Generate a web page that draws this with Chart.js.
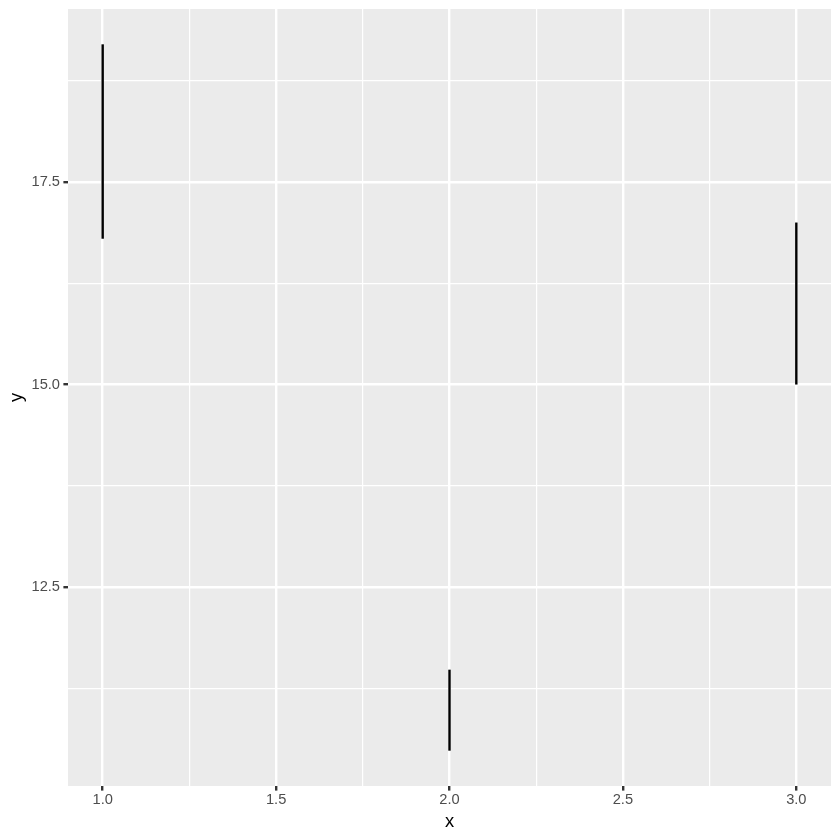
<!DOCTYPE html>
<html>
<head>
<meta charset="utf-8">
<script src="https://cdn.jsdelivr.net/npm/chart.js@4/dist/chart.umd.min.js"></script>
<style>
  html, body { margin: 0; padding: 0; background: #ffffff; }
  #wrap { width: 840px; height: 840px; }
</style>
</head>
<body>
<div id="wrap"><canvas id="c" width="840" height="840"></canvas></div>
<script>
// Data
const xValues = [1, 2, 3];
const yMin = [16.8, 10.48, 15.0];
const yMax = [19.2, 11.48, 17.0];

// Tick labels
const xMajorTicks = [1.0, 1.5, 2.0, 2.5, 3.0];
const xMinorTicks = [1.25, 1.75, 2.25, 2.75];
const yMajorTicks = [12.5, 15.0, 17.5];
const yMinorTicks = [11.25, 13.75, 16.25, 18.75];

// ggplot-like expanded ranges (5%)
const xLo = Math.min(...xValues), xHi = Math.max(...xValues);
const xPad = (xHi - xLo) * 0.05;
const yLo = Math.min(...yMin), yHi = Math.max(...yMax);
const yPad = (yHi - yLo) * 0.05;

const datasets = xValues.map((x, i) => ({
  data: [{x: x, y: yMin[i]}, {x: x, y: yMax[i]}],
  showLine: true,
  borderColor: '#000000',
  borderWidth: 2.4,
  borderCapStyle: 'butt',
  pointRadius: 0,
  pointHoverRadius: 0,
  fill: false
}));

const panelBg = {
  id: 'panelBg',
  beforeDraw(chart) {
    const {ctx, chartArea: a} = chart;
    ctx.save();
    ctx.fillStyle = '#EBEBEB';
    ctx.fillRect(a.left, a.top, a.right - a.left, a.bottom - a.top);
    ctx.restore();
  }
};

function makeTicks(major, minor) {
  return [...major.map(v => ({value: v, major: true})), ...minor.map(v => ({value: v, major: false}))]
    .sort((a, b) => a.value - b.value);
}
function isMajor(list, v) { return list.some(m => Math.abs(m - v) < 1e-9); }

new Chart(document.getElementById('c'), {
  type: 'scatter',
  data: { datasets },
  plugins: [panelBg],
  options: {
    responsive: false,
    animation: false,
    events: [],
    layout: { padding: { left: 0, right: 9, top: 9, bottom: 0 } },
    plugins: { legend: { display: false }, tooltip: { enabled: false } },
    scales: {
      x: {
        type: 'linear',
        min: xLo - xPad,
        max: xHi + xPad,
        afterBuildTicks(scale) { scale.ticks = makeTicks(xMajorTicks, xMinorTicks); },
        afterFit(scale) { scale.height = 54; scale.paddingLeft = 0; scale.paddingRight = 0; },
        border: { display: false },
        grid: {
          color: '#FFFFFF',
          lineWidth: (ctx) => isMajor(xMajorTicks, ctx.tick.value) ? 2.4 : 1.2,
          tickColor: (ctx) => isMajor(xMajorTicks, ctx.tick.value) ? '#333333' : 'rgba(0,0,0,0)',
          tickWidth: 2.4,
          tickLength: 4.6,
          drawOnChartArea: true,
          drawTicks: true
        },
        ticks: {
          autoSkip: false,
          maxRotation: 0,
          padding: 1,
          color: '#4D4D4D',
          font: { family: 'Liberation Sans, Arial, sans-serif', size: 14.67 },
          callback: (v) => isMajor(xMajorTicks, v) ? v.toFixed(1) : ''
        },
        title: {
          display: true,
          text: 'x',
          color: '#000000',
          font: { family: 'Liberation Sans, Arial, sans-serif', size: 18.33 },
          padding: { top: 0, bottom: 7 }
        }
      },
      y: {
        type: 'linear',
        min: yLo - yPad,
        max: yHi + yPad,
        afterBuildTicks(scale) { scale.ticks = makeTicks(yMajorTicks, yMinorTicks); },
        afterFit(scale) { scale.width = 68; scale.paddingTop = 0; scale.paddingBottom = 0; },
        border: { display: false },
        grid: {
          color: '#FFFFFF',
          lineWidth: (ctx) => isMajor(yMajorTicks, ctx.tick.value) ? 2.4 : 1.2,
          tickColor: (ctx) => isMajor(yMajorTicks, ctx.tick.value) ? '#333333' : 'rgba(0,0,0,0)',
          tickWidth: 2.4,
          tickLength: 4.6,
          drawOnChartArea: true,
          drawTicks: true
        },
        ticks: {
          autoSkip: false,
          padding: 3.4,
          color: '#4D4D4D',
          font: { family: 'Liberation Sans, Arial, sans-serif', size: 14.67 },
          callback: (v) => isMajor(yMajorTicks, v) ? v.toFixed(1) : ''
        },
        title: {
          display: true,
          text: 'y',
          color: '#000000',
          font: { family: 'Liberation Sans, Arial, sans-serif', size: 18.33 },
          padding: { top: 6, bottom: 0 }
        }
      }
    }
  }
});
</script>
</body>
</html>
